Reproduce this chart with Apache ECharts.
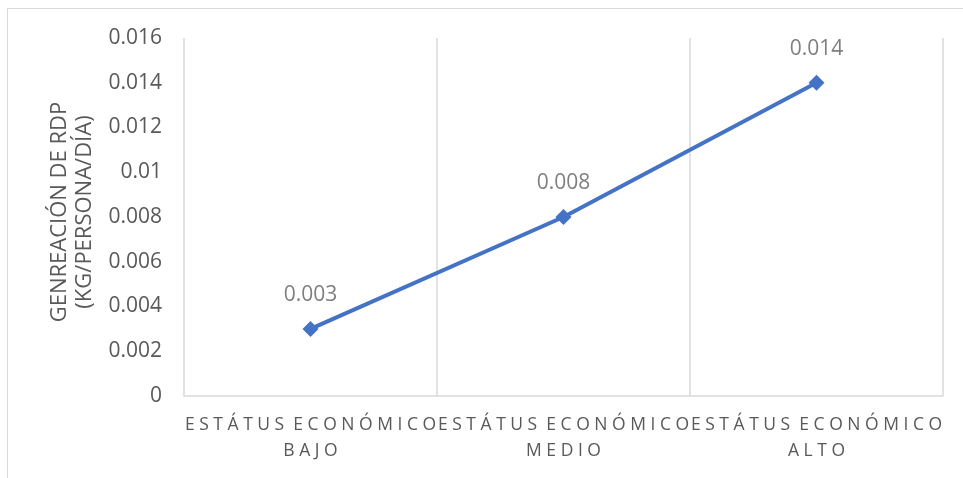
<!DOCTYPE html>
<html>
<head>
<meta charset="utf-8">
<script src="https://cdn.jsdelivr.net/npm/echarts@6/dist/echarts.min.js"></script>
<style>
  html, body { margin: 0; padding: 0; background: #fff; overflow: hidden; }
  #frame { position: absolute; left: 7px; top: 8px; width: 1000px; height: 500px;
           border: 1px solid #d9d9d9; box-sizing: border-box; }
  #chart { position: absolute; left: 0; top: 0; width: 963px; height: 478px; }
</style>
</head>
<body>
<div id="frame"></div>
<div id="chart"></div>
<script>
// Waste generation by socioeconomic status
const categories = ['ESTÁTUS ECONÓMICO\nBAJO', 'ESTÁTUS ECONÓMICO\nMEDIO', 'ESTÁTUS ECONÓMICO\nALTO'];
const generation = [0.003, 0.008, 0.014];
const yTicks = { min: 0, max: 0.016, interval: 0.002 };
const yTitle = 'GENREACIÓN DE RDP\n(KG/PERSONA/DÍA)';

// Spread the letters out to imitate wide tracking
function track(s) {
  return s.split('\n').map(line =>
    line.split(' ').map(w => Array.from(w).join(' ')).join('  ')
  ).join('\n');
}

const chart = echarts.init(document.getElementById('chart'));
chart.setOption({
  animation: false,
  grid: { left: 184, right: 20, top: 38, bottom: 82 },
  xAxis: {
    type: 'category',
    data: categories,
    boundaryGap: true,
    axisLine: { show: true, lineStyle: { color: '#d9d9d9', width: 1.5 } },
    axisTick: { show: false },
    splitLine: { show: true, lineStyle: { color: '#d9d9d9', width: 1.5 } },
    axisLabel: {
      interval: 0,
      color: '#595959',
      fontFamily: 'Open Sans',
      fontSize: 17.5,
      lineHeight: 26,
      margin: 16,
      formatter: v => track(v)
    }
  },
  yAxis: {
    type: 'value',
    min: yTicks.min,
    max: yTicks.max,
    interval: yTicks.interval,
    name: yTitle,
    nameLocation: 'middle',
    nameRotate: 90,
    nameGap: 83,
    nameTextStyle: { color: '#595959', fontFamily: 'Open Sans', fontSize: 22, lineHeight: 25, padding: [0, 0, 0, 10] },
    axisLine: { show: false },
    axisTick: { show: false },
    splitLine: { show: false },
    axisLabel: {
      color: '#595959',
      fontFamily: 'Open Sans',
      fontSize: 21,
      margin: 22,
      formatter: v => (v === 0 ? '0' : String(+v.toFixed(3)))
    }
  },
  series: [{
    type: 'line',
    data: generation,
    symbol: 'diamond',
    symbolSize: 16,
    lineStyle: { color: '#4472C4', width: 4 },
    itemStyle: { color: '#4472C4' },
    label: {
      show: true,
      position: 'top',
      distance: 15,
      color: '#7f7f7f',
      fontFamily: 'Open Sans',
      fontSize: 21,
      formatter: p => String(p.value)
    }
  }]
});
</script>
</body>
</html>
